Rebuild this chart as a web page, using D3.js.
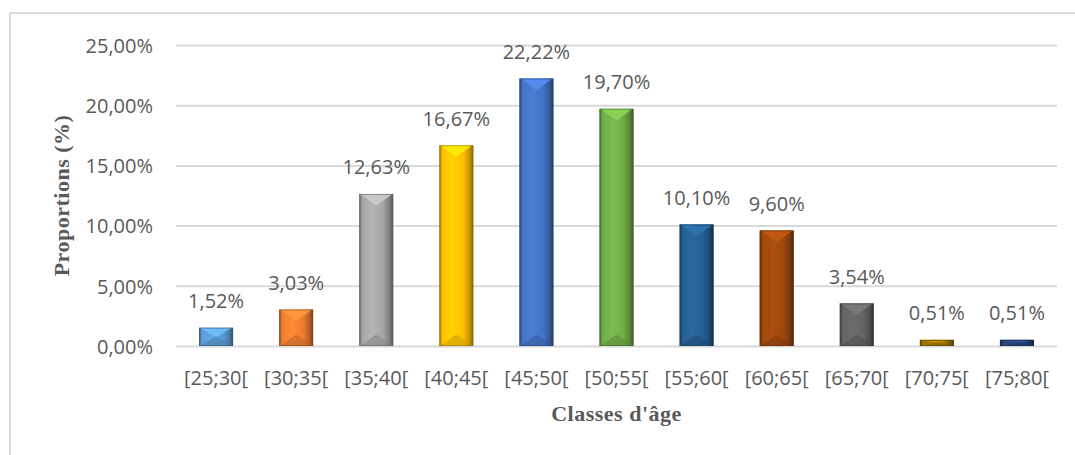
<!DOCTYPE html>
<html>
<head>
<meta charset="utf-8">
<script src="https://cdn.jsdelivr.net/npm/d3@7"></script>
<style>
  html, body { margin: 0; padding: 0; background: #ffffff; }
  svg { display: block; }
</style>
</head>
<body>
<svg id="chart" width="1075" height="455"></svg>
<script>
const categories = ["[25;30[", "[30;35[", "[35;40[", "[40;45[", "[45;50[", "[50;55[", "[55;60[", "[60;65[", "[65;70[", "[70;75[", "[75;80["];
const values = [1.52, 3.03, 12.63, 16.67, 22.22, 19.70, 10.10, 9.60, 3.54, 0.51, 0.51];
const colors = ["#5B9BD5", "#ED7D31", "#A5A5A5", "#FFC000", "#4472C4", "#70AD47", "#255E91", "#9E480E", "#636363", "#997300", "#264478"];
const yTicks = [0, 5, 10, 15, 20, 25];
const xTitle = "Classes d'âge";
const yTitle = "Proportions (%)";

const fmt = v => v.toFixed(2).replace(".", ",") + "%";

const svg = d3.select("#chart");
const W = 1075, H = 455;
const plot = { left: 176, right: 1057, top: 45, bottom: 346 };

// outer frame (top and left edges visible)
svg.append("line").attr("x1", 10).attr("x2", W).attr("y1", 13).attr("y2", 13)
  .attr("stroke", "#d9d9d9").attr("stroke-width", 2);
svg.append("line").attr("x1", 10).attr("x2", 10).attr("y1", 13).attr("y2", H)
  .attr("stroke", "#d9d9d9").attr("stroke-width", 2);

const x = d3.scaleBand().domain(categories).range([plot.left, plot.right])
  .paddingInner(0.575).paddingOuter(0.2875);
const y = d3.scaleLinear().domain([0, 25]).range([plot.bottom, plot.top]);

// gridlines + y-axis labels
const yAxis = d3.axisLeft(y).tickValues(yTicks).tickSize(-(plot.right - plot.left))
  .tickPadding(23).tickFormat(fmt);
const gy = svg.append("g").attr("transform", `translate(${plot.left},0)`).call(yAxis);
gy.select(".domain").remove();
gy.selectAll(".tick line").attr("stroke", "#d9d9d9").attr("stroke-width", 2);
gy.selectAll(".tick text").attr("fill", "#595959")
  .style("font-family", "'Open Sans', sans-serif").style("font-size", "20px")
  .attr("dy", "0.36em");

// x-axis labels
const xAxis = d3.axisBottom(x).tickSize(0).tickPadding(0);
const gx = svg.append("g").attr("transform", `translate(0,${plot.bottom})`).call(xAxis);
gx.select(".domain").remove();
gx.selectAll(".tick text").attr("fill", "#595959")
  .style("font-family", "'Open Sans', sans-serif").style("font-size", "20px")
  .attr("y", 39).attr("dy", 0);

// gradients
const defs = svg.append("defs");
colors.forEach((c, i) => {
  const base = d3.color(c);
  const g = defs.append("linearGradient").attr("id", "grad" + i)
    .attr("x1", "0%").attr("x2", "100%").attr("y1", "0%").attr("y2", "0%");
  g.append("stop").attr("offset", "0%").attr("stop-color", base.darker(1.2));
  g.append("stop").attr("offset", "10%").attr("stop-color", base.brighter(0.05));
  g.append("stop").attr("offset", "40%").attr("stop-color", base.brighter(0.25));
  g.append("stop").attr("offset", "70%").attr("stop-color", base);
  g.append("stop").attr("offset", "88%").attr("stop-color", base.darker(0.7));
  g.append("stop").attr("offset", "100%").attr("stop-color", base.darker(1.8));
});

const bars = svg.append("g").selectAll("g.bar").data(values).enter().append("g").attr("class", "bar");
bars.each(function (v, i) {
  const g = d3.select(this);
  const x0 = x(categories[i]);
  const w = x.bandwidth();
  const y0 = y(v);
  const y1 = y(0);
  const h = y1 - y0;
  const base = d3.color(colors[i]);
  g.append("rect").attr("x", x0).attr("y", y0).attr("width", w).attr("height", h)
    .attr("fill", `url(#grad${i})`);
  const d = Math.min(11, h / 2);
  const inset = w / 2 - 2;
  // top bevel (lighter)
  g.append("polygon")
    .attr("points", [[x0 + 1, y0], [x0 + w - 1, y0], [x0 + w - 1 - inset, y0 + d], [x0 + 1 + inset, y0 + d]].map(p => p.join(",")).join(" "))
    .attr("fill", base.brighter(0.6)).attr("opacity", 0.85);
  // bottom bevel (darker)
  g.append("polygon")
    .attr("points", [[x0 + 1, y1], [x0 + w - 1, y1], [x0 + w - 1 - inset, y1 - d], [x0 + 1 + inset, y1 - d]].map(p => p.join(",")).join(" "))
    .attr("fill", base.darker(0.6)).attr("opacity", 0.6);
  // outline
  g.append("rect").attr("x", x0 + 0.5).attr("y", y0 + 0.5).attr("width", w - 1).attr("height", Math.max(0, h - 1))
    .attr("fill", "none").attr("stroke", base.darker(1.6)).attr("stroke-opacity", 0.55).attr("stroke-width", 1);
});

// data labels
svg.append("g").selectAll("text").data(values).enter().append("text")
  .attr("x", (v, i) => x(categories[i]) + x.bandwidth() / 2)
  .attr("y", v => y(v) - 19.5)
  .attr("text-anchor", "middle")
  .attr("fill", "#595959")
  .style("font-family", "'Open Sans', sans-serif").style("font-size", "20px")
  .text(fmt);

// axis titles
svg.append("text").attr("x", (plot.left + plot.right) / 2).attr("y", 421)
  .attr("text-anchor", "middle").attr("fill", "#595959")
  .style("font-family", "'Liberation Serif', 'Times New Roman', serif").style("font-weight", "bold")
  .style("font-size", "22px").style("letter-spacing", "0.5px")
  .text(xTitle);
svg.append("text").attr("transform", `translate(69,${(plot.top + plot.bottom) / 2}) rotate(-90)`)
  .attr("text-anchor", "middle").attr("fill", "#595959")
  .style("font-family", "'Liberation Serif', 'Times New Roman', serif").style("font-weight", "bold")
  .style("font-size", "22px").style("letter-spacing", "0.5px")
  .text(yTitle);
</script>
</body>
</html>
